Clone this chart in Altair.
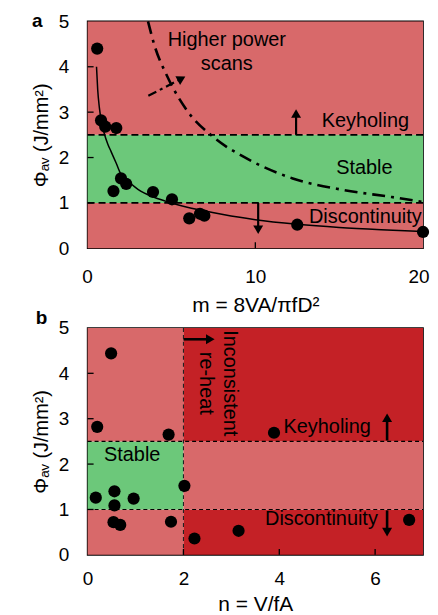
import altair as alt
import pandas as pd

FONT = "Liberation Sans"
W, H = 337, 228
LIGHT_RED = "#D8696A"
GREEN = "#6CC87A"
DARK_RED = "#C42126"

# ---------------- panel a ----------------
a_m = [0.57, 0.80, 1.05, 1.71, 1.99, 2.30, 1.54, 3.90, 5.03, 6.06, 6.70, 6.96, 12.50, 20.00]
a_phi = [4.40, 2.82, 2.68, 2.65, 1.54, 1.42, 1.26, 1.24, 1.08, 0.66, 0.76, 0.72, 0.52, 0.36]

fit_m = [0.53, 0.60, 0.70, 0.83, 1.0, 1.2, 1.4, 1.7, 2.0, 2.5, 3.0, 4.0, 5.0, 6.0, 7.0, 8.0,
         10.0, 12.5, 15.0, 17.5, 20.0]
fit_phi = [4.0, 3.5, 3.1, 2.78, 2.52, 2.3, 2.13, 1.88, 1.62, 1.45, 1.3, 1.12, 1.0, 0.9, 0.82,
           0.75, 0.63, 0.53, 0.46, 0.41, 0.37]

power_m = [3.6, 3.97, 4.76, 5.94, 7.5, 9.48, 12.23, 15.18, 18.13, 20.0]
power_phi = [5.0, 4.49, 3.78, 3.03, 2.45, 1.98, 1.54, 1.29, 1.13, 1.02]

a_reg_x1 = [0, 0, 0]
a_reg_x2 = [20, 20, 20]
a_reg_y1 = [0, 1, 2.5]
a_reg_y2 = [1, 2.5, 5]
a_reg_col = [LIGHT_RED, GREEN, LIGHT_RED]

a_labels = ["Higher power", "scans", "Keyholing", "Stable", "Discontinuity"]
a_label_x = [8.3, 8.3, 16.56, 16.5, 16.56]
a_label_y = [4.58, 4.07, 2.81, 1.76, 0.70]

a_xticks = [0, 10, 20]
yticks = [0, 1, 2, 3, 4, 5]
inner_y = [1, 2, 3, 4]
a_inner_x = [10]
b_inner_x = [2, 4, 6]

# arrows (panel a): shaft start/end, head position, head shape, head angle
a_arrow_x1 = [3.62, 12.43, 10.17]
a_arrow_y1 = [3.36, 2.50, 1.00]
a_arrow_x2 = [5.45, 12.43, 10.17]
a_arrow_y2 = [3.71, 2.92, 0.46]
a_head_x = [5.6, 12.43, 10.17]
a_head_y = [3.74, 2.97, 0.41]
a_head_shape = ["triangle-up", "triangle-up", "triangle-down"]
a_head_angle = [62, 0, 0]

# ---------------- panel b ----------------
b_n = [0.49, 0.20, 1.69, 3.89, 0.17, 0.56, 0.56, 0.96, 2.02, 0.54, 0.68, 1.74, 2.23, 3.15, 6.71]
b_phi = [4.44, 2.82, 2.65, 2.69, 1.26, 1.40, 1.09, 1.24, 1.52, 0.72, 0.66, 0.73, 0.36, 0.53, 0.77]

b_reg_x1 = [0, 0, 0, 2, 2, 2]
b_reg_x2 = [2, 2, 2, 7, 7, 7]
b_reg_y1 = [0, 1, 2.5, 0, 1, 2.5]
b_reg_y2 = [1, 2.5, 5, 1, 2.5, 5]
b_reg_col = [LIGHT_RED, GREEN, LIGHT_RED, DARK_RED, LIGHT_RED, DARK_RED]

b_labels = ["Stable", "Keyholing", "Discontinuity"]
b_label_x = [0.93, 5.0, 4.88]
b_label_y = [2.19, 2.81, 0.79]

b_rot_labels = ["Inconsistent", "re-heat"]
b_rot_x = [2.97, 2.46]
b_rot_y = [3.78, 3.78]

b_xticks = [0, 2, 4, 6]

b_arrow_x1 = [6.25, 6.25, 2.0]
b_arrow_y1 = [2.52, 0.98, 4.75]
b_arrow_x2 = [6.25, 6.25, 2.5]
b_arrow_y2 = [3.0, 0.55, 4.75]
b_head_x = [6.25, 6.25, 2.56]
b_head_y = [3.02, 0.50, 4.75]
b_head_shape = ["triangle-up", "triangle-down", "triangle-right"]
b_head_angle = [0, 0, 0]


def xenc(domain, ticks, title, lp, tp, flush, field="x"):
    extra = {"labelFlush": True, "labelFlushOffset": 6} if flush else {"labelFlush": False}
    return alt.X(f"{field}:Q", scale=alt.Scale(domain=domain, nice=False, zero=False),
                 axis=alt.Axis(values=ticks, title=title, ticks=False, tickSize=0, domain=False,
                               grid=False, labelFont=FONT, labelFontSize=19, labelColor="black",
                               labelPadding=lp, labelOverlap=False,
                               titleFont=FONT, titleFontSize=21, titleFontWeight="normal",
                               titleColor="black", titlePadding=tp, **extra))


def yenc(field="y"):
    return alt.Y(f"{field}:Q", scale=alt.Scale(domain=[0, 5], nice=False, zero=False),
                 axis=alt.Axis(values=yticks, title="Φₐᵥ (J/mm²)", ticks=False, tickSize=0,
                               domain=False, grid=False, labelFont=FONT, labelFontSize=19,
                               labelColor="black", labelPadding=19, labelFlush=False,
                               labelOverlap=False, titleFont=FONT, titleFontSize=20,
                               titleFontWeight="normal", titleColor="black", titlePadding=7))


def panel(X, reg, pts, lines_y, dash, dash_w, texts, rot, arrows, inner_x,
          tag, tag_xy, extra=()):
    x1, x2, y1, y2, col = reg
    reg_df = pd.DataFrame({"x": x1, "x2": x2, "y": y1, "y2": y2, "c": col})
    layers = [alt.Chart(reg_df).mark_rect(strokeWidth=0).encode(
        x=X(), x2="x2:Q", y=yenc(), y2="y2:Q", color=alt.Color("c:N", scale=None))]
    layers += list(extra[:1])
    hl = pd.DataFrame({"y": lines_y})
    layers.append(alt.Chart(hl).mark_rule(color="black", strokeWidth=dash_w, strokeDash=dash)
                  .encode(y=yenc(), x=alt.value(0), x2=alt.value(W)))
    layers += list(extra[1:])
    layers.append(alt.Chart(pd.DataFrame({"y": inner_y})).mark_rule(color="black", strokeWidth=1.3)
                  .encode(y=yenc(), x=alt.value(0), x2=alt.value(6)))
    layers.append(alt.Chart(pd.DataFrame({"x": inner_x})).mark_rule(color="black", strokeWidth=1.3)
                  .encode(x=X(), y=alt.value(H), y2=alt.value(H - 6)))
    ax1, ay1, ax2, ay2, hx, hy, hs, ha, aw, adash = arrows
    adf = pd.DataFrame({"x": ax1, "y": ay1, "x2": ax2, "y2": ay2, "d": adash})
    for d in sorted(set(adash)):
        sub = adf[adf["d"] == d]
        kw = {}
        if d == "dashdot":
            kw["strokeDash"] = [9, 4, 3, 4]
        layers.append(alt.Chart(sub).mark_rule(color="black", strokeWidth=aw, **kw)
                      .encode(x=X(), y=yenc(), x2="x2:Q", y2="y2:Q"))
    hdf = pd.DataFrame({"x": hx, "y": hy, "s": hs, "a": ha})
    layers.append(alt.Chart(hdf).mark_point(filled=True, color="black", size=100, opacity=1)
                  .encode(x=X(), y=yenc(), shape=alt.Shape("s:N", scale=None),
                          angle=alt.Angle("a:Q", scale=None)))
    px, py = pts
    layers.append(alt.Chart(pd.DataFrame({"x": px, "y": py}))
                  .mark_circle(size=150, color="black", opacity=1)
                  .encode(x=X(), y=yenc()))
    tl, tx, ty = texts
    layers.append(alt.Chart(pd.DataFrame({"x": tx, "y": ty, "t": tl}))
                  .mark_text(font=FONT, fontSize=20, color="black", baseline="middle")
                  .encode(x=X(), y=yenc(), text="t:N"))
    if rot:
        rl, rx, ry = rot
        layers.append(alt.Chart(pd.DataFrame({"x": rx, "y": ry, "t": rl}))
                      .mark_text(font=FONT, fontSize=20, color="black", angle=90,
                                 align="center", baseline="middle")
                      .encode(x=X(), y=yenc(), text="t:N"))
    layers.append(alt.Chart(pd.DataFrame({"t": [tag]}))
                  .mark_text(font=FONT, fontSize=19, fontWeight="bold", color="black",
                             align="left", baseline="middle")
                  .encode(text="t:N", x=alt.value(tag_xy[0]), y=alt.value(tag_xy[1])))
    return alt.layer(*layers).properties(width=W, height=H)


Xa = lambda: xenc([0, 20], a_xticks, "m = 8VA/πfD²", 19.5, 8, True)
Xb = lambda: xenc([0, 7], b_xticks, "n = V/fA", 15, 5, False)

fit_df = pd.DataFrame({"x": fit_m, "y": fit_phi})
pow_df = pd.DataFrame({"x": power_m, "y": power_phi})
a_extra = (
    alt.Chart(pow_df).mark_line(color="black", strokeWidth=2.6, strokeDash=[13, 6, 3, 6],
                                interpolate="monotone")
    .encode(x=Xa(), y=yenc(), order="x:Q"),
    alt.Chart(fit_df).mark_line(color="black", strokeWidth=1.5, interpolate="monotone")
    .encode(x=Xa(), y=yenc(), order="x:Q"),
)

top = panel(Xa, (a_reg_x1, a_reg_x2, a_reg_y1, a_reg_y2, a_reg_col),
            (a_m, a_phi), [1.0, 2.5], [7, 4], 1.8,
            (a_labels, a_label_x, a_label_y), None,
            (a_arrow_x1, a_arrow_y1, a_arrow_x2, a_arrow_y2, a_head_x, a_head_y,
             a_head_shape, a_head_angle, 2.2, ["dashdot", "solid", "solid"]),
            a_inner_x, "a", (-56, 0), extra=a_extra)

vline = alt.Chart(pd.DataFrame({"x": [2.0]})).mark_rule(
    color="#222222", strokeWidth=1.1, strokeDash=[4, 3]).encode(
    x=Xb(), y=alt.value(0), y2=alt.value(H))

bottom = panel(Xb, (b_reg_x1, b_reg_x2, b_reg_y1, b_reg_y2, b_reg_col),
               (b_n, b_phi), [1.0, 2.5], [4, 3], 1.1,
               (b_labels, b_label_x, b_label_y),
               (b_rot_labels, b_rot_x, b_rot_y),
               (b_arrow_x1, b_arrow_y1, b_arrow_x2, b_arrow_y2, b_head_x, b_head_y,
                b_head_shape, b_head_angle, 2.6, ["solid", "solid", "solid"]),
               b_inner_x, "b", (-52, -10), extra=(vline,))

chart = alt.vconcat(top, bottom, spacing=80, bounds="flush").properties(
    padding={"left": 22, "top": 2, "right": 0, "bottom": 0}
).configure_view(stroke="black", strokeWidth=1.6)

chart.save("out.html", embed_options={"renderer": "svg", "actions": False})
